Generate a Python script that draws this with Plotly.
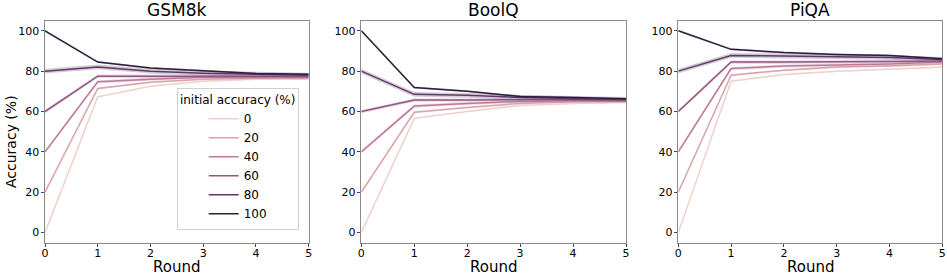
import numpy as np
import plotly.graph_objects as go

rounds = [0, 1, 2, 3, 4, 5]
init_acc = [0, 20, 40, 60, 80, 100]
datasets = ["GSM8k", "BoolQ", "PiQA"]

gsm8k = {
    0:   [0, 67.3, 72.5, 75.0, 76.0, 76.0],
    20:  [20, 71.4, 74.5, 76.0, 76.5, 76.5],
    40:  [40, 74.7, 76.0, 77.0, 77.0, 77.0],
    60:  [60, 77.5, 77.5, 77.5, 77.5, 77.5],
    80:  [80, 82.1, 80.0, 79.0, 78.5, 78.0],
    100: [100, 84.5, 81.6, 80.1, 78.8, 78.5],
}
boolq = {
    0:   [0, 56.6, 60.0, 63.0, 64.0, 64.5],
    20:  [20, 59.6, 62.0, 64.0, 64.8, 65.0],
    40:  [40, 62.7, 64.0, 65.0, 65.3, 65.3],
    60:  [60, 65.7, 65.7, 66.0, 66.0, 65.8],
    80:  [80, 68.5, 68.0, 67.0, 66.5, 66.0],
    100: [100, 71.9, 70.0, 67.5, 67.0, 66.3],
}
piqa = {
    0:   [0, 75.0, 78.3, 80.0, 81.0, 82.0],
    20:  [20, 78.0, 80.5, 82.0, 82.5, 83.5],
    40:  [40, 81.3, 82.5, 83.0, 83.5, 84.5],
    60:  [60, 84.5, 84.5, 84.5, 84.8, 85.0],
    80:  [80, 87.8, 87.5, 87.0, 86.8, 85.8],
    100: [100, 90.8, 89.2, 88.3, 87.8, 86.2],
}
band_half = [0.4, 0.5, 0.8, 0.8, 1.2, 0.5]

all_data = [gsm8k, boolq, piqa]


def cubehelix(x, start=0.0, rot=0.4, gamma=1.0, hue=0.8):
    xg = x ** gamma
    a = hue * xg * (1 - xg) / 2
    phi = 2 * np.pi * (start / 3 + rot * x)
    r = xg + a * (-0.14861 * np.cos(phi) + 1.78277 * np.sin(phi))
    g = xg + a * (-0.29227 * np.cos(phi) - 0.90649 * np.sin(phi))
    b = xg + a * (1.97294 * np.cos(phi))
    return tuple(int(round(255 * min(1, max(0, c)))) for c in (r, g, b))


def color_for(v):
    return cubehelix(0.85 - 0.7 * v / 100.0)


W, H = 947, 275
x_doms = [(45 / W, 308.7 / W), (361.3 / W, 626 / W), (678.3 / W, 942.3 / W)]
y_dom = ((275 - 242.7) / H, (275 - 20.7) / H)
FONT = "DejaVu Sans"

fig = go.Figure()
for i, (name, data) in enumerate(zip(datasets, all_data)):
    xa = "x" if i == 0 else f"x{i+1}"
    ya = "y" if i == 0 else f"y{i+1}"
    for j, v in enumerate(init_acc):
        rgb = color_for(v)
        col = "rgb(%d,%d,%d)" % rgb
        vals = data[v]
        hw = band_half[j]
        up = [val + hw for val in vals]
        lo = [val - hw for val in vals]
        fig.add_trace(go.Scatter(
            x=rounds + rounds[::-1], y=up + lo[::-1], fill="toself",
            fillcolor="rgba(%d,%d,%d,0.25)" % rgb, line=dict(width=0),
            mode="lines", showlegend=False, hoverinfo="skip", xaxis=xa, yaxis=ya))
        fig.add_trace(go.Scatter(
            x=rounds, y=vals, mode="lines", name=str(v),
            line=dict(color=col, width=1.5),
            showlegend=(i == 0), legendgroup=str(v), xaxis=xa, yaxis=ya))

    axis_common = dict(showgrid=False, zeroline=False, showline=True, mirror=True,
                       linecolor="#8a8a8a", linewidth=1, ticks="outside", ticklen=3.5,
                       tickcolor="#444", automargin=False,
                       tickfont=dict(family=FONT, size=11, color="black"))
    xkey = "xaxis" if i == 0 else f"xaxis{i+1}"
    ykey = "yaxis" if i == 0 else f"yaxis{i+1}"
    fig.update_layout(**{
        xkey: dict(domain=x_doms[i], anchor=ya, range=[0, 5], tickvals=rounds,
                   ticklabelstandoff=-3, **axis_common),
        ykey: dict(domain=y_dom, anchor=xa, range=[-5, 105], tickvals=[0, 20, 40, 60, 80, 100],
                   ticklabelstandoff=-1, **axis_common),
    })
    xc = (x_doms[i][0] + x_doms[i][1]) / 2
    fig.add_annotation(text=name, x=xc, y=1 - 10 / H,
                       xref="paper", yref="paper", showarrow=False, xanchor="center", yanchor="middle",
                       font=dict(family=FONT, size=17, color="black"))
    fig.add_annotation(text="Round", x=xc, y=1 - 267 / H,
                       xref="paper", yref="paper", showarrow=False, xanchor="center", yanchor="middle",
                       font=dict(family=FONT, size=15, color="black"))

fig.add_annotation(text="Accuracy (%)", x=11 / W, y=1 - 142 / H, textangle=-90,
                   xref="paper", yref="paper", showarrow=False, xanchor="center", yanchor="middle",
                   font=dict(family=FONT, size=14, color="black"))

fig.update_layout(
    width=W, height=H, margin=dict(l=0, r=0, t=0, b=0),
    paper_bgcolor="white", plot_bgcolor="white",
    legend=dict(x=176.7 / W, y=(275 - 87.7) / H, xanchor="left", yanchor="top",
                title=dict(text="initial accuracy (%)", side="top center",
                           font=dict(family=FONT, size=12, color="black")),
                font=dict(family=FONT, size=12, color="black"),
                bgcolor="rgba(255,255,255,0.8)", bordercolor="#d0d0d0", borderwidth=1,
                tracegroupgap=0, indentation=26),
)
fig.write_html("out.html", config={"displayModeBar": False},
               post_script="document.body.style.margin='0';document.body.style.overflow='hidden';")
